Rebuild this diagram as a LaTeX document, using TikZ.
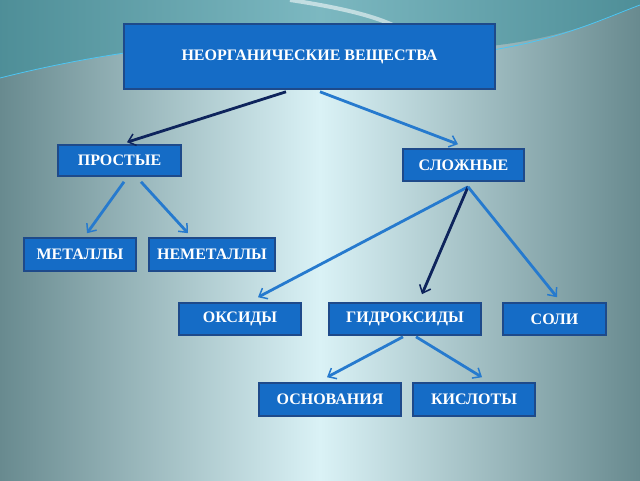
\documentclass[tikz,border=0pt]{standalone}
\usepackage{fontspec}
\setmainfont{Liberation Serif}
\usetikzlibrary{
  calc,positioning,
  arrows.meta
}
\definecolor{bgedge}{RGB}{104,138,143}
\definecolor{bgmid}{RGB}{218,242,246}
\definecolor{bgteal}{RGB}{62,146,158}
\definecolor{boxfill}{RGB}{21,108,198}
\definecolor{boxline}{RGB}{30,74,138}
\definecolor{lightarrow}{RGB}{38,122,206}
\definecolor{darkarrow}{RGB}{14,36,92}
\tikzset{
  classbox/.style={draw=boxline,line width=1.6pt,fill=boxfill,text=white,
    font=\fontsize{16}{18}\selectfont\bfseries,inner sep=0pt,minimum height=32},
  link/.style={lightarrow,line width=2.8pt,-{Straight Barb[length=7pt,width=12pt,line width=1.5pt]}},
  darklink/.style={link,darkarrow}
}

\begin{document}
\begin{tikzpicture}[x=1pt,y=-1pt]

\useasboundingbox (0,0) rectangle (640,480);
\shade[left color=bgedge,right color=bgedge,middle color=bgmid] (0,0) rectangle (640,480);
\fill[bgteal,opacity=0.6] (0,0) -- (640,0) -- (640,5) .. controls (560,40) and (480,55) .. (400,45)
  .. controls (300,32) and (150,40) .. (0,78) -- cycle;
\draw[cyan!70!white,line width=0.8pt] (0,78) .. controls (150,40) and (300,32) .. (400,45);
\draw[cyan!70!white,line width=0.8pt] (480,52) .. controls (560,40) and (600,20) .. (640,5);
\draw[white,opacity=0.55,line width=4pt] (290,0) .. controls (330,6) and (370,14) .. (395,26);

\node[classbox,minimum width=371,minimum height=65] (inorg) at (309.5,56.5) {НЕОРГАНИЧЕСКИЕ ВЕЩЕСТВА};
\node[classbox,minimum width=123,minimum height=31] (simple) at (119.5,160.5) {ПРОСТЫЕ};
\node[classbox,minimum width=121] (complex) at (463.5,165) {СЛОЖНЫЕ};
\node[classbox,minimum width=112,minimum height=33] (metals) at (80,254.5) {МЕТАЛЛЫ};
\node[classbox,minimum width=126,minimum height=33] (nonmetals) at (212,254.5) {НЕМЕТАЛЛЫ};
\node[classbox,minimum width=122] (oxides) at (240,319) {ОКСИДЫ};
\node[classbox,minimum width=152] (hydroxides) at (405,319) {ГИДРОКСИДЫ};
\node[classbox,minimum width=103] (salts) at (554.5,319) {СОЛИ};
\node[classbox,minimum width=142,minimum height=33] (bases) at (330,399.5) {ОСНОВАНИЯ};
\node[classbox,minimum width=122,minimum height=33] (acids) at (474,399.5) {КИСЛОТЫ};

\draw[darklink] ($(inorg.south)+(-23.5,2)$) -- ($(simple.north)+(7.5,-2)$);
\draw[link] ($(inorg.south)+(10.5,2)$) -- ($(complex.north)+(-5.5,-4)$);
\draw[link] ($(simple.south)+(4.5,5)$) -- ($(metals.north)+(7,-4)$);
\draw[link] ($(simple.south)+(21.5,5)$) -- ($(nonmetals.north)+(-24,-4)$);
\draw[link] ($(complex.south)+(4.5,5)$) -- ($(oxides.north)+(18,-5)$);
\draw[darklink] ($(complex.south)+(4.5,5)$) -- ($(hydroxides.north)+(17,-8)$);
\draw[link] ($(complex.south)+(4.5,5)$) -- ($(salts.north)+(2.5,-5)$);
\draw[link] ($(hydroxides.south)+(-2,1)$) -- ($(bases.north)+(-3,-5)$);
\draw[link] ($(hydroxides.south)+(11,1)$) -- ($(acids.north)+(8,-5)$);
\end{tikzpicture}
\end{document}
